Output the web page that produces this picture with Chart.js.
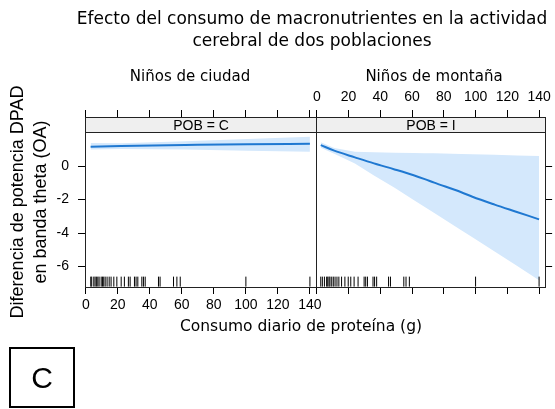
<!DOCTYPE html>
<html>
<head>
<meta charset="utf-8">
<script src="https://cdn.jsdelivr.net/npm/chart.js@4.4.1/dist/chart.umd.min.js"></script>
<style>
    body { margin: 0; background: #fff; }
    #page { position: relative; width: 555px; height: 409px; overflow: hidden; background: #fff; }
    canvas { position: absolute; left: 0; top: 0; }
    .txt { position: absolute; text-align: center; font: 15px "DejaVu Sans", sans-serif; line-height: 18px; color: #000; white-space: nowrap; }
    #tag { position: absolute; left: 9px; top: 347px; width: 66px; height: 61px; box-sizing: border-box;
           border: 2px solid #000; font: 30px "Liberation Sans", Arial, sans-serif; color: #000;
           display: flex; align-items: center; justify-content: center; }
</style>
</head>
<body>
<div id="page">
    <canvas id="panelC" width="555" height="409"></canvas>
    <canvas id="panelI" width="555" height="409"></canvas>

    <div class="txt" style="left:12px; top:7px; width:600px; line-height:22px; font-size:17px">Efecto del consumo de macronutrientes en la actividad<br>cerebral de dos poblaciones</div>
    <div class="txt" style="left:90px; top:67px; width:200px">Niños de ciudad</div>
    <div class="txt" style="left:334px; top:67px; width:200px">Niños de montaña</div>
    <div class="txt" style="left:151px; top:317px; width:300px; font-size:15.5px">Consumo diario de proteína (g)</div>
    <div id="tag">C</div>
</div>

<script>
// tick labels
const xTicks = [0, 20, 40, 60, 80, 100, 120, 140];
const yTicks = [0, -2, -4, -6];

// POB = C  (niños de ciudad)
const xC   = [3, 22, 62, 101, 140];
const fitC = [1.15, 1.20, 1.26, 1.31, 1.33];
const lowC = [0.99, 1.02, 0.99, 0.92, 0.85];
const uppC = [1.38, 1.36, 1.48, 1.62, 1.75];
const rugC = [3.1, 3.7, 5, 5.8, 6.6, 7.5, 8.3, 9.6, 10.4, 11.2, 12.1, 13.3, 14.6, 15.8, 17.5, 19.4,
              22.1, 24.1, 26.6, 27.7, 30.4, 31.4, 32.5, 35, 36, 37.1, 45.4, 46.4, 54.8, 56.9, 59, 100, 140];

// POB = I  (niños de montaña)
const xI   = [2.5, 11, 24, 36, 49, 61, 68, 74, 91, 98, 112, 126, 140];
const fitI = [1.25, 0.92, 0.52, 0.16, -0.20, -0.55, -0.78, -0.99, -1.56, -1.83, -2.30, -2.74, -3.18];
const lowI = [1.10, 0.73, 0.16, -0.56, -1.30, -2.02, -2.44, -2.80, -3.83, -4.25, -5.10, -5.95, -6.81];
const uppI = [1.42, 1.08, 0.86, 0.82, 0.80, 0.78, 0.77, 0.76, 0.72, 0.70, 0.67, 0.63, 0.60];
const rugI = [2.5, 3.5, 4.8, 6.2, 6.9, 7.7, 8.3, 9.4, 10.4, 11.5, 12.7, 13.9, 15.6, 17.7, 19.8, 21.4,
              23.5, 26, 29.8, 30.8, 31.9, 35.4, 36.4, 37.7, 45.2, 46.4, 54.8, 56.2, 58.3, 100, 140];

const LINE = '#1f78d1';
const BAND = '#d4e8fc';
const INK = '#000';
const STRIP_H = 15;
const RUG_Y = -6.9;

function pts(xs, ys) {
    return xs.map((x, i) => ({ x: x, y: ys[i] }));
}

// strip with the panel label + frame round the panel
const panelFrame = {
    id: 'panelFrame',
    afterDraw(chart, args, opts) {
        const { ctx, chartArea: a } = chart;
        const l = Math.round(a.left) + 0.5, r = Math.round(a.right) + 0.5;
        const t = Math.round(a.top) + 0.5, b = Math.round(a.bottom) + 0.5;
        ctx.save();
        ctx.fillStyle = '#efefef';
        ctx.fillRect(l, t, r - l, STRIP_H);
        ctx.strokeStyle = '#222';
        ctx.lineWidth = 1;
        ctx.strokeRect(l, t, r - l, b - t);
        ctx.beginPath();
        ctx.moveTo(l, t + STRIP_H);
        ctx.lineTo(r, t + STRIP_H);
        ctx.stroke();
        ctx.fillStyle = INK;
        ctx.font = '14px "Liberation Sans"';
        ctx.textAlign = 'center';
        ctx.textBaseline = 'middle';
        ctx.fillText(opts.label, (l + r) / 2, t + STRIP_H / 2 + 1);
        ctx.restore();
    }
};

function axis(pos, showLabels, size, vals, min, max) {
    return {
        type: 'linear', position: pos, min: min, max: max,
        afterFit: s => { if (s.isHorizontal()) s.height = size; else s.width = size; },
        afterBuildTicks: s => { s.ticks = vals.map(v => ({ value: v })); },
        grid: { drawOnChartArea: false, drawTicks: true, tickLength: 7, color: INK },
        border: { display: true, color: INK },
        ticks: { display: showLabels, color: INK, autoSkip: false, maxRotation: 0, padding: 4,
                 font: { family: 'Liberation Sans', size: 14 } }
    };
}

function makePanel(id, label, xs, fit, low, upp, rug, left) {
    const scales = {
        x: axis('bottom', left, 30, xTicks, -0.5, 143.8),
        xTop: axis('top', !left, 30, xTicks, -0.5, 143.8),
        y: axis(left ? 'left' : 'right', left, left ? 85 : 9, yTicks, -7.22, 2.93)
    };
    scales.x.ticks.padding = 3;
    scales.xTop.ticks.padding = 4;
    if (left) {
        scales.y.ticks.padding = 9;
        scales.y.title = {
            display: true,
            text: ['Diferencia de potencia DPAD', 'en banda theta (OA)'],
            color: INK,
            font: { family: 'Liberation Sans', size: 18, lineHeight: 1.25 },
            padding: { top: 7, bottom: 0 }
        };
    }
    return new Chart(document.getElementById(id), {
        type: 'line',
        data: {
            datasets: [
                { data: pts(xs, fit), borderColor: LINE, borderWidth: 2, pointRadius: 0,
                  cubicInterpolationMode: 'monotone', fill: false },
                { type: 'scatter', data: rug.map(x => ({ x: x, y: RUG_Y })), pointStyle: 'line', pointRotation: 90,
                  pointRadius: 5, borderColor: INK, borderWidth: 1, showLine: false },
                { data: pts(xs, low), borderWidth: 0, pointRadius: 0, fill: false },
                { data: pts(xs, upp), borderWidth: 0, pointRadius: 0, backgroundColor: BAND, fill: '-1' }
            ]
        },
        options: {
            responsive: false,
            animation: false,
            layout: { padding: left ? { left: 0, right: 239, top: 87, bottom: 92 }
                                     : { left: 316, right: 0, top: 87, bottom: 92 } },
            scales: scales,
            plugins: {
                legend: { display: false },
                tooltip: { enabled: false },
                panelFrame: { label: label }
            }
        },
        plugins: [panelFrame]
    });
}

makePanel('panelC', 'POB = C', xC, fitC, lowC, uppC, rugC, true);
makePanel('panelI', 'POB = I', xI, fitI, lowI, uppI, rugI, false);
</script>
</body>
</html>
